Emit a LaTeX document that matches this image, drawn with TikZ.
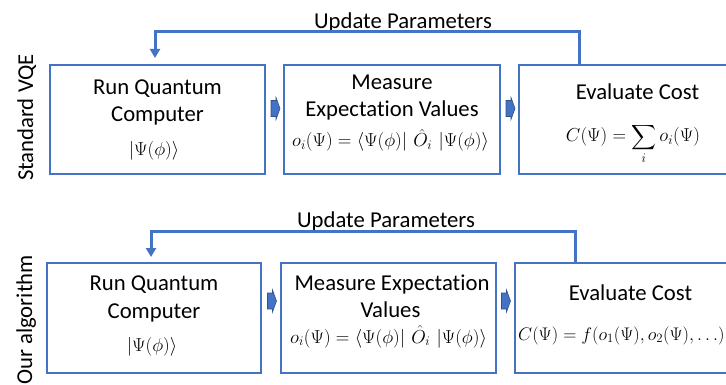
\RequirePackage{fix-cm}
\documentclass[tikz,border=0pt]{standalone}
\usepackage{amsmath}
\usepackage[no-math]{fontspec}
\setmainfont[Ligatures=NoCommon]{Carlito}
\usetikzlibrary{arrows.meta}
\definecolor{obl}{HTML}{4472C4}
\definecolor{obd}{HTML}{2F528F}
\newcommand{\brkt}{\left\langle\Psi(\phi)\right|\,\hat{O}_i\,\left|\Psi(\phi)\right\rangle}
\begin{document}
\begin{tikzpicture}[x=1pt,y=-1pt,
 box/.style={draw=obl, line width=2pt, inner sep=0pt},
 lbl/.style={anchor=base, inner sep=0pt, font=\fontsize{22.7}{27}\selectfont},
 mth/.style={anchor=base, inner sep=0pt, font=\fontsize{18.8}{22}\selectfont},
 fb/.style={draw=obl, line width=3pt, -{Triangle[width=10pt,length=9pt]}},
 blk/.style={fill=obl, draw=obd, line width=0.6pt, line join=miter}]
\useasboundingbox (0,0) rectangle (726,385);
\clip (0,0) rectangle (726,385);
% boxes
\node[box, minimum width=215pt, minimum height=109pt] (r1) at (157.5,119.5) {};
\node[box, minimum width=216pt, minimum height=109pt] (m1) at (392,119.5) {};
\node[box, minimum width=240pt, minimum height=109pt] (e1) at (639,119.5) {};
\node[box, minimum width=214pt, minimum height=110pt] (r2) at (154,318) {};
\node[box, minimum width=215pt, minimum height=110pt] (m2) at (388.5,318) {};
\node[box, minimum width=240pt, minimum height=110pt] (e2) at (635,318) {};
% texts top
\node[lbl] (r1a) at (157.5,95) {Run Quantum};
\node[lbl] (r1b) at (157.5,122) {Computer};
\node[mth] (r1c) at (154,156) {$|\Psi(\phi)\rangle$};
\node[lbl] (m1a) at (392,90) {Measure};
\node[lbl] (m1b) at (392,117) {Expectation Values};
\node[mth] (m1c) at (390.5,147) {$o_i(\Psi)=\brkt$};
\node[lbl] (e1a) at (637.5,100) {Evaluate Cost};
\node[mth] (e1c) at (633,142) {$\displaystyle C(\Psi)=\sum_i o_i(\Psi)$};
% texts bottom
\node[lbl] (r2a) at (154,290) {Run Quantum};
\node[lbl] (r2b) at (154,318) {Computer};
\node[mth] (r2c) at (152,351) {$|\Psi(\phi)\rangle$};
\node[lbl] (m2a) at (392,290) {Measure Expectation};
\node[lbl] (m2b) at (390.5,317) {Values};
\node[mth] (m2c) at (388.5,343) {$o_i(\Psi)=\brkt$};
\node[lbl] (e2a) at (630.5,300) {Evaluate Cost};
\node[mth, anchor=base west, font=\fontsize{18.2}{22}\selectfont] (e2c) at (518,340) {$C(\Psi)=f(o_1(\Psi),o_2(\Psi),\ldots)$};
% side labels
\node[lbl, rotate=90] (s1) at (33,117.5) {Standard VQE};
\node[lbl, rotate=90] (s2) at (32,320) {Our algorithm};
% update labels
\node[lbl] (p1) at (403,29) {Update Parameters};
\node[lbl] (p2) at (386,227) {Update Parameters};
% feedback connectors
\coordinate (u1) at (579,32); \coordinate (t1) at (155,58);
\coordinate (u2) at (575,231); \coordinate (t2) at (151,257);
\draw[fb] (e1.north -| u1) |- (t1 |- u1) -- (t1);
\draw[fb] (e2.north -| u2) |- (t2 |- u2) -- (t2);
% block arrows
\coordinate (b1) at (275.5,108.5);
\coordinate (b2) at (510.5,108.5);
\coordinate (b3) at (272,301);
\coordinate (b4) at (506,301);
\foreach \b in {b1,b2,b3,b4}{
  \draw[blk] (\b) ++(-4.5,-8) -- ++(5,0) -- ++(0,-3) -- ++(4,11) -- ++(-4,11) -- ++(0,-3) -- ++(-5,0) -- cycle;
}
\end{tikzpicture}
\end{document}
